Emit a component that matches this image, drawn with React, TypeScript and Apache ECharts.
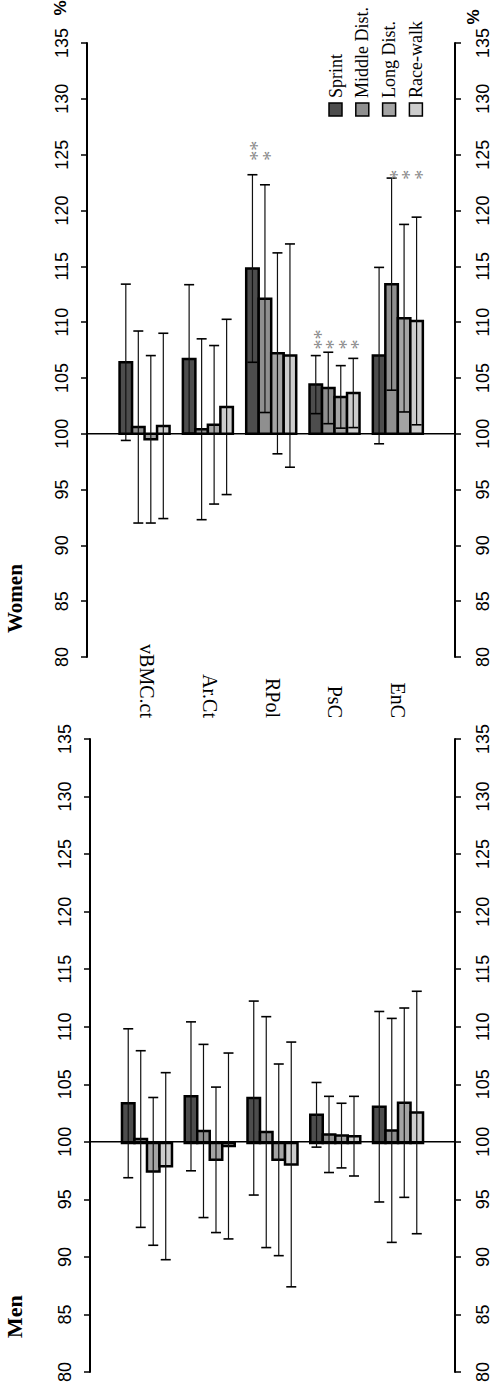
import React, { useEffect, useRef } from "react";
import * as echarts from "echarts";

// ---------- data ----------
const categories = ["vBMC.ct", "Ar.Ct", "RPol", "PsC", "EnC"];
const groups = ["Sprint", "Middle Dist.", "Long Dist.", "Race-walk"];
const groupColors = ["#4d4d4d", "#8f8f8f", "#a4a4a4", "#cdcdcd"];
const yMin = 80;
const yMax = 135;
const yStep = 5;
const baseline = 100;

// Women (mean, SD in %)
const womenSprintMean = [106.4, 106.7, 114.8, 104.4, 107.0];
const womenSprintSD = [7.0, 6.65, 8.4, 2.6, 7.9];
const womenMiddleMean = [100.6, 100.4, 112.1, 104.1, 113.4];
const womenMiddleSD = [8.6, 8.1, 10.2, 3.2, 9.5];
const womenLongMean = [99.5, 100.8, 107.2, 103.3, 110.35];
const womenLongSD = [7.5, 7.1, 9.0, 2.8, 8.4];
const womenRaceMean = [100.7, 102.4, 107.0, 103.65, 110.1];
const womenRaceSD = [8.3, 7.85, 10.0, 3.1, 9.3];

// Women significance marks and the level they are written at
const womenSprintSig = ["", "", "**", "**", ""];
const womenMiddleSig = ["", "", "*", "*", "*"];
const womenLongSig = ["", "", "", "*", "*"];
const womenRaceSig = ["", "", "", "*", "*"];
const womenSigLevel = [0, 0, 124.9, 108.0, 123.2];

// Men (mean, SD in %)
const menSprintMean = [103.45, 104.05, 103.9, 102.45, 103.15];
const menSprintSD = [6.45, 6.45, 8.4, 2.8, 8.25];
const menMiddleMean = [100.35, 101.05, 100.95, 100.75, 101.1];
const menMiddleSD = [7.65, 7.5, 10.0, 3.3, 9.7];
const menLongMean = [97.55, 98.55, 98.55, 100.65, 103.5];
const menLongSD = [6.4, 6.3, 8.3, 2.8, 8.2];
const menRaceMean = [98.0, 99.75, 98.15, 100.6, 102.65];
const menRaceSD = [8.1, 8.05, 10.6, 3.45, 10.5];

const noSig = ["", "", "", "", ""];
const noSigLevel = [0, 0, 0, 0, 0];

// ---------- styles ----------
const BAR_W = 12.5;
const CAP = 5;
const tickFont = "'Liberation Sans Narrow', 'Liberation Sans', sans-serif";
const serifFont = "'Liberation Serif', 'DejaVu Serif', serif";

function makeRenderer(idx: number, color: string, sig: string[], sigLevel: number[]) {
  return (params: any, api: any) => {
    const cat = api.value(0);
    const mean = api.value(1);
    const sd = api.value(2);
    const base = api.coord([cat, baseline]);
    const top = api.coord([cat, mean]);
    const hi = api.coord([cat, mean + sd]);
    const lo = api.coord([cat, mean - sd]);
    const xc = base[0] + (idx - 1.5) * BAR_W;
    const children: any[] = [
      {
        type: "rect",
        shape: {
          x: xc - BAR_W / 2,
          y: Math.min(base[1], top[1]),
          width: BAR_W,
          height: Math.abs(top[1] - base[1]),
        },
        style: { fill: color, stroke: "#000", lineWidth: 2.5 },
      },
      {
        type: "line",
        shape: { x1: xc, y1: hi[1], x2: xc, y2: lo[1] },
        style: { stroke: "#111", lineWidth: 1.2 },
      },
      {
        type: "line",
        shape: { x1: xc - CAP, y1: hi[1], x2: xc + CAP, y2: hi[1] },
        style: { stroke: "#000", lineWidth: 1.6 },
      },
      {
        type: "line",
        shape: { x1: xc - CAP, y1: lo[1], x2: xc + CAP, y2: lo[1] },
        style: { stroke: "#000", lineWidth: 1.6 },
      },
    ];
    const s = sig[params.dataIndex];
    if (s) {
      const p = api.coord([cat, sigLevel[params.dataIndex]]);
      children.push({
        type: "text",
        x: xc + 5,
        y: p[1] + 5,
        rotation: Math.PI / 2,
        style: {
          text: s,
          fill: "#8a8a8a",
          fontSize: 20,
          fontFamily: serifFont,
          align: "left",
          verticalAlign: "middle",
          textAlign: "left",
          textVerticalAlign: "middle",
        },
      });
    }
    return { type: "group", children };
  };
}

function customSeries(
  name: string,
  idx: number,
  means: number[],
  sds: number[],
  sig: string[],
  sigLevel: number[],
  xAxisIndex: number,
  yAxisIndex: number
) {
  return {
    type: "custom",
    name,
    xAxisIndex,
    yAxisIndex,
    clip: false,
    silent: true,
    z: 3 + idx,
    itemStyle: { color: groupColors[idx] },
    renderItem: makeRenderer(idx, groupColors[idx], sig, sigLevel),
    data: categories.map((_, i) => [i, means[i], sds[i]]),
  };
}

function valueAxis(gridIndex: number, position: string, show: boolean, margin: number) {
  return {
    type: "value",
    gridIndex,
    position,
    min: yMin,
    max: yMax,
    interval: yStep,
    show,
    axisLine: { show, onZero: false, lineStyle: { color: "#000", width: 2 } },
    axisTick: { show, inside: false, length: 6, lineStyle: { color: "#000", width: 1.5 } },
    axisLabel: {
      show,
      rotate: 90,
      margin,
      fontFamily: tickFont,
      fontSize: 18,
      color: "#000",
    },
    splitLine: { show: false },
  };
}

const App: React.FC = () => {
  const ref = useRef<HTMLDivElement>(null);

  useEffect(() => {
    if (!ref.current) return;
    const chart = echarts.init(ref.current, undefined, { renderer: "svg" });

    const legendChildren: any[] = [];
    groups.forEach((g, i) => {
      legendChildren.push({
        type: "rect",
        shape: { x: 329 + i * 26.8, y: 103, width: 13, height: 13 },
        style: { fill: groupColors[i], stroke: "#000", lineWidth: 1.5 },
      });
      legendChildren.push({
        type: "text",
        x: 335.5 + i * 26.8,
        y: 98,
        rotation: Math.PI / 2,
        style: {
          text: g,
          fill: "#000",
          fontSize: 18,
          fontFamily: serifFont,
          align: "left",
          verticalAlign: "middle",
          textAlign: "left",
          textVerticalAlign: "middle",
        },
      });
    });

    const rotText = (text: string, x: number, y: number, size: number, weight: string, family: string, align: string) => ({
      type: "text",
      x,
      y,
      rotation: Math.PI / 2,
      style: {
        text,
        fill: "#000",
        fontSize: size,
        fontWeight: weight,
        fontFamily: family,
        align,
        verticalAlign: "middle",
        textAlign: align,
        textVerticalAlign: "middle",
      },
    });

    const option: any = {
      animation: false,
      grid: [
        { left: 87, right: 37, top: 43, height: 614 },
        { left: 112.9, right: 62.5, top: 43, height: 614 },
        { left: 90, right: 37, top: 739, height: 635 },
        { left: 115.6, right: 62.6, top: 739, height: 635 },
      ],
      xAxis: [
        { type: "value", gridIndex: 0, min: 0, max: 1, show: false },
        { type: "category", gridIndex: 1, data: categories, show: false, boundaryGap: true },
        { type: "value", gridIndex: 2, min: 0, max: 1, show: false },
        {
          type: "category",
          gridIndex: 3,
          data: categories,
          position: "top",
          boundaryGap: true,
          axisLine: { show: false, onZero: false },
          axisTick: { show: false },
          axisLabel: {
            show: true,
            rotate: 90,
            margin: 21,
            fontFamily: serifFont,
            fontSize: 20,
            color: "#000",
            interval: 0,
          },
        },
      ],
      yAxis: [
        valueAxis(0, "left", true, 16),
        valueAxis(0, "right", true, 19),
        valueAxis(1, "left", false, 0),
        valueAxis(2, "left", true, 16),
        valueAxis(2, "right", true, 19),
        valueAxis(3, "left", false, 0),
      ],
      graphic: [
        { type: "group", children: legendChildren },
        rotText("%", 60, 8, 17, "bold", "'Liberation Sans', sans-serif", "center"),
        rotText("%", 473, 17, 17, "bold", "'Liberation Sans', sans-serif", "center"),
        rotText("Women", 15, 633, 21, "bold", serifFont, "left"),
        rotText("Men", 14, 1338, 22, "bold", serifFont, "left"),
      ],
      series: [
        {
          type: "line",
          xAxisIndex: 0,
          yAxisIndex: 0,
          data: [[0, baseline], [1, baseline]],
          symbol: "none",
          silent: true,
          lineStyle: { color: "#000", width: 1.5 },
          z: 10,
        },
        {
          type: "line",
          xAxisIndex: 2,
          yAxisIndex: 3,
          data: [[0, baseline], [1, baseline]],
          symbol: "none",
          silent: true,
          lineStyle: { color: "#000", width: 1.5 },
          z: 10,
        },
        customSeries(groups[0], 0, womenSprintMean, womenSprintSD, womenSprintSig, womenSigLevel, 1, 2),
        customSeries(groups[1], 1, womenMiddleMean, womenMiddleSD, womenMiddleSig, womenSigLevel, 1, 2),
        customSeries(groups[2], 2, womenLongMean, womenLongSD, womenLongSig, womenSigLevel, 1, 2),
        customSeries(groups[3], 3, womenRaceMean, womenRaceSD, womenRaceSig, womenSigLevel, 1, 2),
        customSeries(groups[0], 0, menSprintMean, menSprintSD, noSig, noSigLevel, 3, 5),
        customSeries(groups[1], 1, menMiddleMean, menMiddleSD, noSig, noSigLevel, 3, 5),
        customSeries(groups[2], 2, menLongMean, menLongSD, noSig, noSigLevel, 3, 5),
        customSeries(groups[3], 3, menRaceMean, menRaceSD, noSig, noSigLevel, 3, 5),
      ],
    };

    chart.setOption(option);
    return () => chart.dispose();
  }, []);

  return (
    <div
      ref={ref}
      style={{ position: "absolute", left: 0, top: 0, width: 492, height: 1385, background: "#fff" }}
    />
  );
};

export default App;
